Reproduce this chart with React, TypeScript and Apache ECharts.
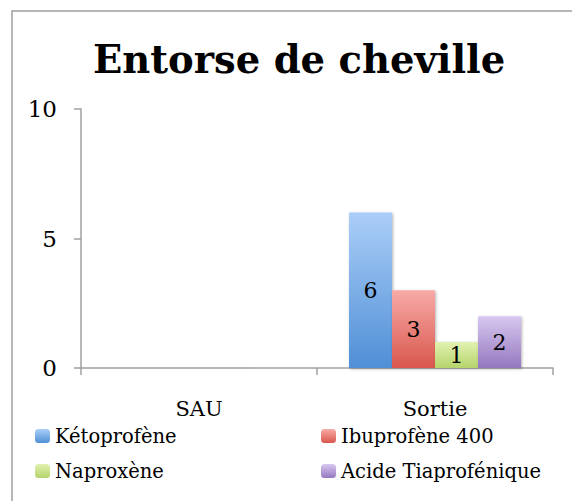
import React, { useEffect, useRef } from "react";
import * as echarts from "echarts";

const categories = ["SAU", "Sortie"];
const seriesNames = ["Kétoprofène", "Ibuprofène 400", "Naproxène", "Acide Tiaprofénique"];
const ketoprofene = [null, 6];
const ibuprofene400 = [null, 3];
const naproxene = [null, 1];
const acideTiaprofenique = [null, 2];
const yTicks = { min: 0, max: 10, interval: 5 };

const FONT = "DejaVu Serif";

const grad = (top: string, bottom: string) =>
  new echarts.graphic.LinearGradient(0, 0, 0, 1, [
    { offset: 0, color: top },
    { offset: 1, color: bottom },
  ]);

export default function App() {
  const ref = useRef<HTMLDivElement>(null);
  useEffect(() => {
    if (!ref.current) return;
    const chart = echarts.init(ref.current, null, { renderer: "svg" });
    const values = [ketoprofene, ibuprofene400, naproxene, acideTiaprofenique];
    const colors = [
      ["#abcef8", "#4f8fd6"],
      ["#f8aaa7", "#d9574d"],
      ["#e2f1b0", "#b5d46c"],
      ["#d8c8f0", "#9478bf"],
    ];
    const legendBase = {
      orient: "vertical",
      top: 421,
      itemWidth: 15,
      itemHeight: 14,
      itemGap: 15,
      padding: 5,
      textStyle: { fontFamily: FONT, fontSize: 19.5, color: "#000", lineHeight: 20 },
    };
    chart.setOption({
      animation: false,
      backgroundColor: "#ffffff",
      textStyle: { fontFamily: FONT },
      title: {
        text: "Entorse de cheville",
        left: 88,
        top: 35,
        textStyle: { fontFamily: FONT, fontWeight: "bold", fontSize: 38.5, color: "#000" },
      },
      graphic: [
        {
          type: "rect",
          shape: { x: 12, y: 11, width: 700, height: 700 },
          style: { fill: "none", stroke: "#a0a0a0", lineWidth: 1.5 },
          silent: true,
        },
      ],
      legend: [
        { ...legendBase, data: [seriesNames[0], seriesNames[2]], left: 30 },
        { ...legendBase, data: [seriesNames[1], seriesNames[3]], left: 316 },
      ],
      grid: { left: 81, right: 19, top: 109, bottom: 133, containLabel: false },
      xAxis: {
        type: "category",
        data: categories,
        axisLine: { show: true, lineStyle: { color: "#a0a0a0", width: 1.5 } },
        axisTick: { show: true, length: 7, alignWithLabel: false, lineStyle: { color: "#a0a0a0", width: 1.5 } },
        axisLabel: { fontFamily: FONT, fontSize: 21, lineHeight: 20, color: "#000", margin: 31 },
      },
      yAxis: {
        type: "value",
        min: yTicks.min,
        max: yTicks.max,
        interval: yTicks.interval,
        splitLine: { show: false },
        axisLine: { show: true, lineStyle: { color: "#a0a0a0", width: 1.5 } },
        axisTick: { show: true, length: 7, lineStyle: { color: "#a0a0a0", width: 1.5 } },
        axisLabel: { fontFamily: FONT, fontSize: 23, color: "#000", margin: 24 },
      },
      series: seriesNames.map((name, i) => ({
        name,
        type: "bar",
        data: values[i],
        barGap: "0%",
        barWidth: 43,
        itemStyle: {
          color: grad(colors[i][0], colors[i][1]),
          shadowColor: "rgba(0,0,0,0.3)",
          shadowBlur: 3,
          shadowOffsetX: 1,
          shadowOffsetY: 1,
        },
        label: {
          show: true,
          position: "inside",
          fontFamily: FONT,
          fontSize: 22,
          color: "#000",
        },
      })),
    });
    return () => chart.dispose();
  }, []);
  return <div ref={ref} style={{ width: 572, height: 501, position: "absolute", left: 0, top: 0 }} />;
}
